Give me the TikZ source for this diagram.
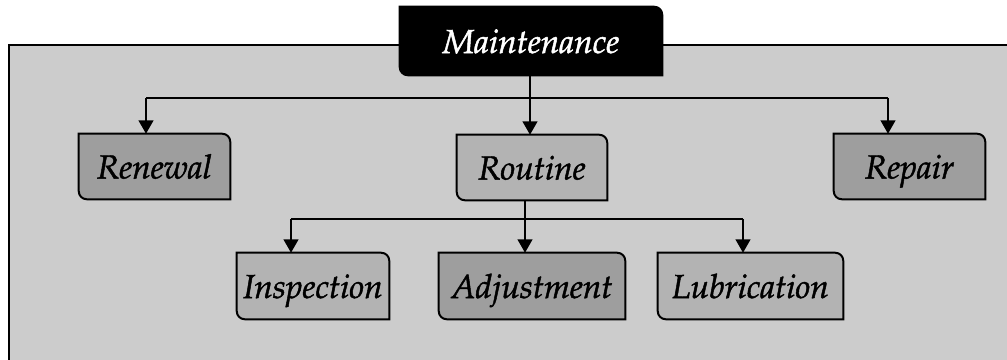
\documentclass[tikz,border=0pt]{standalone}
\usepackage[T1]{fontenc}
\usepackage{mathpazo}
\usetikzlibrary{arrows.meta}
\pgfdeclarelayer{panel}
\pgfdeclarelayer{shapes}
\pgfsetlayers{panel,shapes,main}
\definecolor{panelgray}{HTML}{CCCCCC}
\definecolor{darkbox}{HTML}{9E9E9E}
\definecolor{lightbox}{HTML}{B3B3B3}
\newcommand\heavytext[1]{\special{pdf:literal direct 2 Tr 0.35 w}#1\special{pdf:literal direct 0 Tr}}
\tikzset{
  lbl/.style={font=\fontsize{25}{30}\selectfont\itshape, inner sep=0pt, rectangle, draw=none, text depth=0pt},
  boxline/.style={line width=1.5pt, draw=black},
  conn/.style={line width=1.5pt, draw=black},
  arr/.style={conn, -{Triangle[width=11pt,length=10pt]}},
}
\newcommand\cornerbox[2]{%
  \begin{pgfonlayer}{shapes}
  \draw[boxline,fill=#2] (#1.north west) -- ([xshift=-6pt]#1.north east)
    arc[start angle=90,end angle=0,radius=6pt] -- (#1.south east)
    -- ([xshift=6pt]#1.south west) arc[start angle=270,end angle=180,radius=6pt] -- cycle;
  \end{pgfonlayer}}
\begin{document}
\begin{tikzpicture}[x=0.75pt,y=0.75pt]
\useasboundingbox (0,0) rectangle (1007,-360);
\begin{pgfonlayer}{panel}
  \fill[panelgray] (9,-45) rectangle (1007,-360);
  \draw[line width=1.5pt] (9,-360) -- (9,-45) -- (1007,-45);
\end{pgfonlayer}
% nodes
\node[lbl, minimum width=196.5pt, minimum height=51pt, text=white] (mnt) at (531,-41) {\heavytext{Maintenance}};
\node[lbl, minimum width=113.25pt, minimum height=48.75pt] (ren) at (154.5,-166.5) {\heavytext{Renewal}};
\node[lbl, minimum width=112.5pt, minimum height=48.75pt] (rou) at (532,-167.5) {\heavytext{Routine}};
\node[lbl, minimum width=113.25pt, minimum height=48.75pt] (rep) at (909.5,-166.5) {\heavytext{Repair}};
\node[lbl, minimum width=114pt, minimum height=49.5pt] (ins) at (313,-286) {\heavytext{Inspection}};
\node[lbl, minimum width=139.5pt, minimum height=49.5pt] (adj) at (532,-286) {\heavytext{Adjustment}};
\node[lbl, minimum width=138.75pt, minimum height=49.5pt] (lub) at (750.5,-286) {\heavytext{Lubrication}};
\cornerbox{mnt}{black}
\cornerbox{ren}{darkbox}
\cornerbox{rou}{lightbox}
\cornerbox{rep}{darkbox}
\cornerbox{ins}{lightbox}
\cornerbox{adj}{darkbox}
\cornerbox{lub}{lightbox}
% connectors
\coordinate (bl) at (146,-98);
\coordinate (bm) at (530,-98);
\coordinate (br) at (888,-98);
\coordinate (sl) at (291,-219);
\coordinate (sm) at (525,-219);
\coordinate (sr) at (743,-219);
\begin{pgfonlayer}{shapes}
\draw[conn] (bl) -- (br);
\draw[arr] (bm |- mnt.south) -- (bm |- rou.north);
\draw[arr] (bl) -- (bl |- ren.north);
\draw[arr] (br) -- (br |- rep.north);
\draw[conn] (sl) -- (sr);
\draw[arr] (sm |- rou.south) -- (sm |- adj.north);
\draw[arr] (sl) -- (sl |- ins.north);
\draw[arr] (sr) -- (sr |- lub.north);
\end{pgfonlayer}
\end{tikzpicture}
\end{document}
